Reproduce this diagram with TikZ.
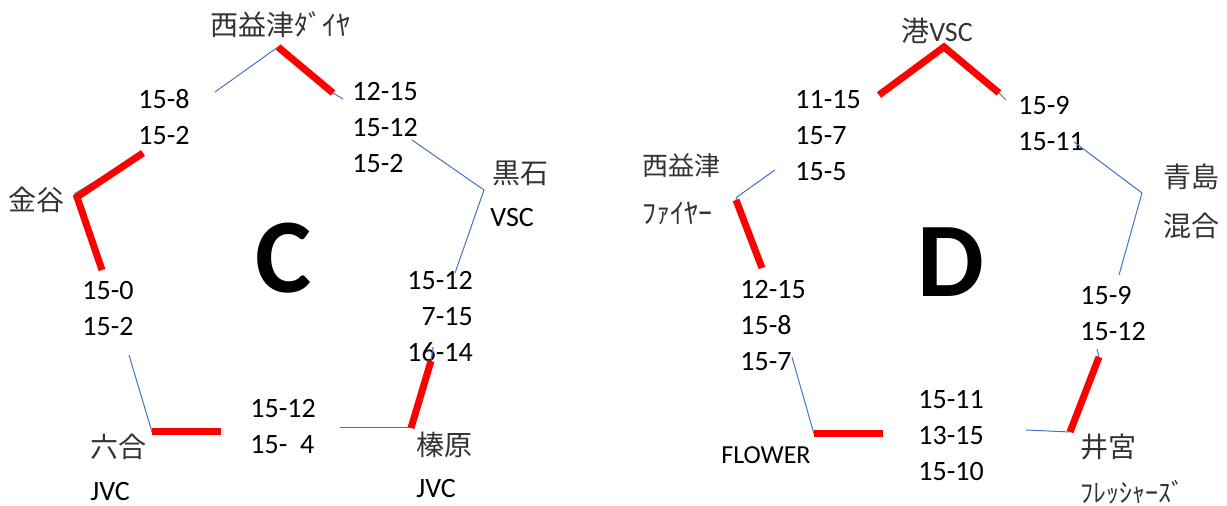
\documentclass[tikz,border=0pt]{standalone}
\usepackage{fontspec}
\setmainfont{Carlito}
\newfontfamily\jp{Noto Sans CJK JP}
\definecolor{lineblue}{HTML}{4472C4}
\tikzset{
  win/.style={red,line width=3.5pt},
  loss/.style={lineblue,line width=0.5pt},
  score/.style={font=\fontsize{14}{18}\selectfont,align=left,inner sep=0pt,anchor=west},
  team/.style={font=\jp\fontsize{14}{18}\selectfont,text=black!80,inner sep=0pt,anchor=west},
  pool/.style={font=\fontsize{53}{60}\selectfont\bfseries,inner sep=0pt}
}

\begin{document}
\begin{tikzpicture}[x=0.5pt,y=-0.5pt]
\useasboundingbox (0,0) rectangle (1227,506);

% ---------- pool C ----------
\node[pool] (poolC) at (284,258) {C};
% teams
\node[team,anchor=center] (nishiDaiya) at (280,25) {西益津ﾀﾞｲﾔ};
\node[team] (kanaya) at (8,200) {金谷};
\node[team] (kuroishi) at (492,173) {黒石};
\node[score] (kuroishiVSC) at (490,218) {VSC};
\node[team] (rokugo) at (90,447) {六合};
\node[score] (rokugoJVC) at (90,492) {JVC};
\node[team] (haibara) at (416,445) {榛原};
\node[score] (haibaraJVC) at (416,489) {JVC};
% scores
\node[score] (scoreC1) at (138,117) {15-8\\15-2};
\node[score] (scoreC2) at (352,128) {12-15\\15-12\\15-2};
\node[score,align=right] (scoreC3) at (407,317) {15-12\\7-15\\16-14};
\node[score] (scoreC4) at (82,309) {15-0\\15-2};
\node[score] (scoreC5) at (250,427) {15-12\\15-\ \ 4};
% corners and line ends
\coordinate (cT) at (278,47);
\coordinate (cR) at (484,190);
\coordinate (cBR) at (411,428);
\coordinate (cBL) at (152,432);
\coordinate (cL) at (77,197);
\coordinate (cT1) at (215,92);   \coordinate (cT2) at (333,93);  \coordinate (cT3) at (343,99);
\coordinate (cR1) at (412,140);  \coordinate (cR2) at (455,273);
\coordinate (cBR1) at (433,347); \coordinate (cBR2) at (431,361); \coordinate (cBR3) at (340,428);
\coordinate (cBL1) at (221,432); \coordinate (cBL2) at (129,355);
\coordinate (cL1) at (102,270);  \coordinate (cL2) at (143,153); \coordinate (cL3) at (74,194);
% edges
\draw[loss] (cT1) -- (cT);
\draw[loss] (cT2) -- (cT3);
\draw[win] (cT) -- (cT2);
\draw[loss] (cR1) -- (cR) -- (cR2);
\draw[loss] (cBR1) -- (cBR2);
\draw[loss] (cBR3) -- (cBR);
\draw[win] (cBR2) -- (cBR);
\draw[loss] (cBL2) -- (cBL);
\draw[win] (cBL) -- (cBL1);
\draw[loss] (cL3) -- (cL2);
\draw[win] (cL1) -- (cL) -- (cL2);

% ---------- pool D ----------
\node[pool] (poolD) at (951,262) {D};
% teams
\node[team,anchor=center] (minato) at (937,31) {港\rmfamily VSC};
\node[team,font=\jp\fontsize{13}{16}\selectfont] (nishiFire) at (642,166) {西益津};
\node[team] (nishiFireB) at (642,213) {ﾌｧｲﾔｰ};
\node[team] (aoshima) at (1163,177) {青島};
\node[team] (aoshimaB) at (1163,226) {混合};
\node[team] (imiya) at (1080,447) {井宮};
\node[team,font=\jp\fontsize{13}{16}\selectfont] (imiyaB) at (1080,492) {ﾌﾚｯｼｬｰｽﾞ};
\node[score,font=\fontsize{13}{16}\selectfont] (flower) at (721,455) {FLOWER};
% scores
\node[score] (scoreD1) at (795,136) {11-15\\15-7\\15-5};
\node[score] (scoreD2) at (1018,124) {15-9\\15-11};
\node[score] (scoreD3) at (740,326) {12-15\\15-8\\15-7};
\node[score] (scoreD4) at (1080,314) {15-9\\15-12};
\node[score] (scoreD5) at (918,436) {15-11\\13-15\\15-10};
% corners and line ends
\coordinate (dT) at (944,47);
\coordinate (dR) at (1142,193);
\coordinate (dBR) at (1070,432);
\coordinate (dBL) at (814,434);
\coordinate (dL) at (737,197);
\coordinate (dT1) at (879,95);    \coordinate (dT2) at (999,93);   \coordinate (dT3) at (1006,100);
\coordinate (dR1) at (1074,142);  \coordinate (dR2) at (1119,275);
\coordinate (dBR1) at (1097,349); \coordinate (dBR2) at (1099,357); \coordinate (dBR3) at (1026,430);
\coordinate (dBL1) at (883,434);  \coordinate (dBL2) at (792,357);
\coordinate (dL1) at (775,170);   \coordinate (dL2) at (736,200);  \coordinate (dL3) at (762,268);
% edges
\draw[win] (dT1) -- (dT) -- (dT2);
\draw[loss] (dT2) -- (dT3);
\draw[loss] (dR1) -- (dR) -- (dR2);
\draw[loss] (dBR1) -- (dBR2);
\draw[loss] (dBR3) -- (dBR);
\draw[win] (dBR2) -- (dBR);
\draw[loss] (dBL2) -- (dBL);
\draw[win] (dBL) -- (dBL1);
\draw[loss] (dL1) -- (dL) -- (dL2);
\draw[win] (dL2) -- (dL3);
\end{tikzpicture}
\end{document}
